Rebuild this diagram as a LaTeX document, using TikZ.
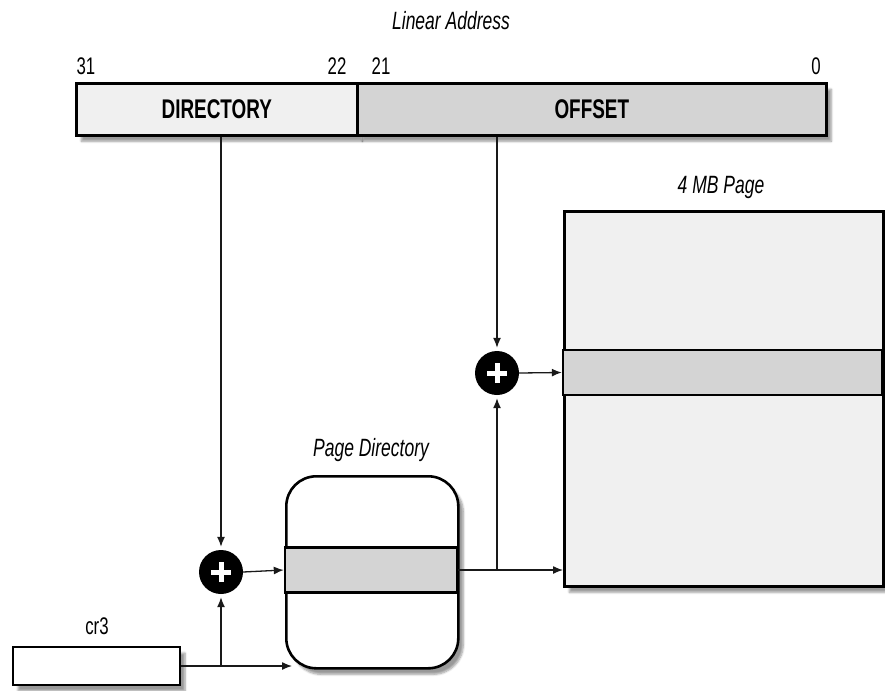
\documentclass[tikz,border=0pt]{standalone}
\usepackage{fontspec}
\setmainfont{Liberation Sans}[FakeStretch=0.7]
\usepackage{tikz}
\usetikzlibrary{shapes,arrows.meta,positioning,calc,shadows.blur}

\definecolor{lightfill}{gray}{0.94}
\definecolor{darkfill}{gray}{0.83}

\begin{document}
\begin{tikzpicture}[
    x=1pt, y=-1pt,
    field/.style={rectangle, draw, line width=2.6pt, minimum height=52pt, anchor=north west,
        font=\fontsize{27}{30}\selectfont\bfseries, inner sep=0pt},
    table/.style={rectangle, draw, line width=2.6pt, inner sep=0pt},
    entry/.style={rectangle, draw, line width=2.4pt, fill=darkfill, inner sep=0pt},
    adder/.style={circle, fill=black, minimum size=44pt, inner sep=0pt,
        path picture={
            \draw[white, line width=5pt] ([xshift=-10pt]path picture bounding box.center) -- ++(20pt,0);
            \draw[white, line width=5pt] ([yshift=-10pt]path picture bounding box.center) -- ++(0,20pt);
        }},
    caption/.style={font=\fontsize{25}{28}\selectfont\itshape},
    bitnum/.style={font=\fontsize{24}{27}\selectfont},
    arr/.style={-{Latex[length=10pt,width=8pt]}, line width=1.3pt, gray!20!black},
    sh/.style={blur shadow={shadow xshift=5pt, shadow yshift=-6pt, shadow blur steps=6, shadow opacity=40}}
]
\useasboundingbox (0,0) rectangle (885,690);

% Linear address
\node[caption] (linaddr) at (451,21) {Linear Address};
\node[field, fill=lightfill, minimum width=281pt, sh] (directory) at (75,82) {DIRECTORY};
\node[field, fill=darkfill, minimum width=469pt, sh] (offset) at (356,82) {OFFSET};
\node[bitnum] (b31) at (86,66) {31};
\node[bitnum] (b22) at (337,66) {22};
\node[bitnum] (b21) at (381,66) {21};
\node[bitnum] (b0) at (816,66) {0};

% 4 MB page
\node[table, fill=lightfill, minimum width=319pt, minimum height=375pt, anchor=north west, sh] (page) at (563,210) {};
\node[entry, minimum width=319pt, minimum height=45pt] (pageslot) at (722.5,372.5) {};
\node[caption] (pagelabel) at (721,187) {4 MB Page};

% Page directory
\node[table, fill=white, rounded corners=30pt, minimum width=172pt, minimum height=192pt, anchor=north west, sh] (pagedir) at (285,475) {};
\node[entry, minimum width=172pt, minimum height=45pt] (pdentry) at (371,570) {};
\node[caption] (pdlabel) at (371,450) {Page Directory};

% cr3
\node[table, fill=white, minimum width=167pt, minimum height=38pt, sh] (cr3) at (96.5,666) {};
\node[bitnum] (cr3label) at (97,626) {cr3};

% adders
\node[adder] (addone) at (221,572) {};
\node[adder] (addtwo) at (497,373) {};

% Arrows
\draw[arr, shorten >=3pt] (addone |- directory.south) -- (addone.north);
\draw[arr, shorten >=3pt] (addtwo |- offset.south) -- (addtwo.north);
\draw[arr] (cr3.east) -- ([xshift=7pt]pagedir.west |- cr3.east);
\draw[arr, shorten >=3pt] (addone |- cr3.east) -- (addone.south);
\draw[arr] (addone.east) -- (pdentry.west);
\draw[arr] (pdentry.east) -- (pdentry.east -| page.west);
\draw[arr, shorten >=3pt] (addtwo |- pdentry.east) -- (addtwo.south);
\draw[arr] (addtwo.east) -- (pageslot.west);

\end{tikzpicture}
\end{document}
